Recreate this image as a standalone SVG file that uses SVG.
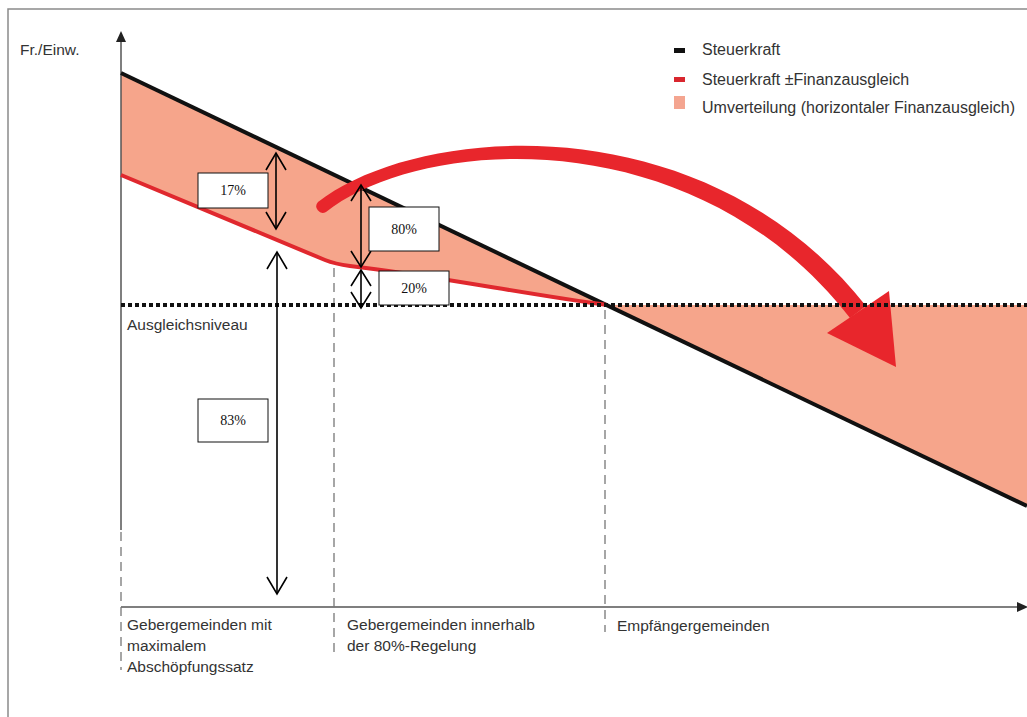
<svg xmlns="http://www.w3.org/2000/svg" width="1027" height="717" viewBox="0 0 1027 717">
<style>
.lbl{font-family:"Liberation Sans",Arial,sans-serif;font-size:15.5px;fill:#333}
.leg{font-family:"Liberation Sans",Arial,sans-serif;font-size:16px;fill:#333}
.pct{font-family:"Liberation Serif","Times New Roman",serif;font-size:14px;fill:#111;text-anchor:middle}
.box{fill:#fff;stroke:#111;stroke-width:1}
.dash{fill:none;stroke:#777;stroke-width:1.3;stroke-dasharray:9,6}
.dbl{fill:none;stroke:#000;stroke-width:1.6}
</style>
<rect x="0" y="0" width="1027" height="717" fill="#fff"/>
<rect x="8" y="9" width="1040" height="730" fill="none" stroke="#8a8a8a" stroke-width="1.5"/>

<g id="fill">
<path d="M121,73 L607,305 C530,295 430,275 350,266 Q335,264 325,260 L121,175 Z" fill="#F6A58B"/>
<path d="M607,305 L1027,305 L1027,506 Z" fill="#F6A58B"/>
</g>

<g id="axes">
<line x1="121" y1="40" x2="121" y2="530" stroke="#555" stroke-width="1.5"/>
<polygon points="121,31 116,42 126,42" fill="#222"/>
<line x1="121" y1="607" x2="1019" y2="607" stroke="#555" stroke-width="1.5"/>
<polygon points="1028,607 1017,602 1017,612" fill="#222"/>
<line class="dash" x1="121" y1="532" x2="121" y2="670"/>
<line class="dash" x1="334" y1="268" x2="334" y2="652"/>
<line class="dash" x1="605" y1="310" x2="605" y2="632"/>
</g>

<g id="lines">
<line x1="121" y1="73" x2="1027" y2="506" stroke="#111" stroke-width="4"/>
<path d="M121,175 L325,260 Q335,264 350,266 C430,275 530,295 607,305" fill="none" stroke="#E0282E" stroke-width="4"/>
</g>

<g id="texts">
<text class="lbl" x="20" y="55" font-size="15">Fr./Einw.</text>
<text class="lbl" x="127" y="330">Ausgleichsniveau</text>
<text class="lbl" x="127" y="630">Gebergemeinden mit</text>
<text class="lbl" x="127" y="651">maximalem</text>
<text class="lbl" x="127" y="672">Abschöpfungssatz</text>
<text class="lbl" x="347" y="630">Gebergemeinden innerhalb</text>
<text class="lbl" x="347" y="651">der 80%-Regelung</text>
<text class="lbl" x="617" y="631">Empfängergemeinden</text>
</g>

<g id="legend">
<rect x="674" y="48" width="11" height="5" fill="#111"/>
<text class="leg" x="702" y="55">Steuerkraft</text>
<rect x="674" y="77" width="11" height="5" fill="#D9262E"/>
<text class="leg" x="702" y="85">Steuerkraft ±Finanzausgleich</text>
<rect x="674" y="96" width="11" height="13" fill="#F4A590"/>
<text class="leg" x="702" y="113">Umverteilung (horizontaler Finanzausgleich)</text>
</g>

<g id="connectors">
<g id="big-arrow">
<path d="M318,202 C420,123 706,103 866,306 L850,318 C694,117 420,137 326,212 A6.5,6.5 0 0 1 318,202 Z" fill="#E8262C"/>
<polygon points="827,333 889,291 896,367" fill="#E8262C"/>
</g>
<line id="ausgleichsniveau" x1="121" y1="305" x2="1027" y2="305" stroke="#111" stroke-width="4" stroke-dasharray="4,3"/>
<g id="arrow-17">
<line class="dbl" x1="276" y1="153" x2="276" y2="229"/>
<polyline class="dbl" points="266,170 276,153 286,170"/>
<polyline class="dbl" points="266,212 276,229 286,212"/>
</g>
<g id="arrow-83">
<line class="dbl" x1="277" y1="252" x2="277" y2="594"/>
<polyline class="dbl" points="267,269 277,252 287,269"/>
<polyline class="dbl" points="267,577 277,594 287,577"/>
</g>
<g id="arrow-80">
<line class="dbl" x1="361" y1="185" x2="361" y2="267"/>
<polyline class="dbl" points="351,201 361,185 371,201"/>
<polyline class="dbl" points="351,251 361,267 371,251"/>
</g>
<g id="arrow-20">
<line class="dbl" x1="361" y1="270" x2="361" y2="308"/>
<polyline class="dbl" points="351,286 361,270 371,286"/>
<polyline class="dbl" points="351,292 361,308 371,292"/>
</g>
</g>

<g id="box-17"><rect class="box" x="198" y="173" width="70" height="35"/><text class="pct" x="233" y="195">17%</text></g>
<g id="box-80"><rect class="box" x="369" y="207" width="70" height="44"/><text class="pct" x="404" y="234">80%</text></g>
<g id="box-20"><rect class="box" x="379" y="271" width="70" height="34"/><text class="pct" x="414" y="293">20%</text></g>
<g id="box-83"><rect class="box" x="198" y="399" width="70" height="43"/><text class="pct" x="233" y="425">83%</text></g>
</svg>
